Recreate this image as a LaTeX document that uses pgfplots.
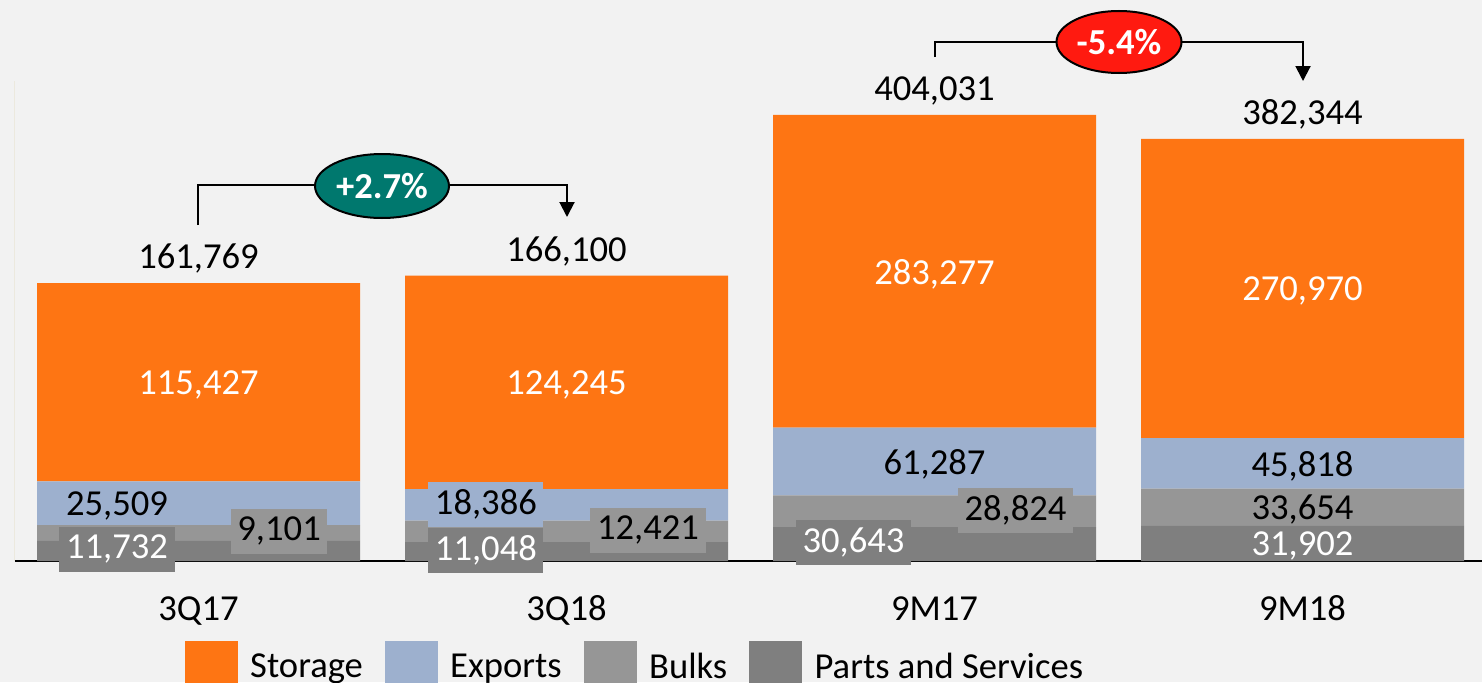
\documentclass[border=0pt]{standalone}
\usepackage{fontspec}
\setmainfont{Carlito}
\usepackage{pgfplots}
\pgfplotsset{compat=1.18}
\usetikzlibrary{arrows.meta,shapes.geometric}
\definecolor{bg}{RGB}{242,242,242}
\definecolor{storage}{RGB}{254,117,19}
\definecolor{exports}{RGB}{157,176,206}
\definecolor{bulks}{RGB}{150,150,150}
\definecolor{parts}{RGB}{127,127,127}
\definecolor{tealc}{RGB}{0,120,110}
\definecolor{redc}{RGB}{255,26,16}
\definecolor{yline}{RGB}{236,233,222}
\newcommand{\lf}{\fontsize{18.3}{22}\selectfont}
\pgfplotsset{
  base/.style={at={(7.25pt,60.5pt)}, anchor=south west, scale only axis,
    width=734pt, height=240pt, xmin=-0.5, xmax=3.4891, ymin=0,
    ybar stacked, bar width=161.5pt, clip=false, enlargelimits=false},
}
\tikzset{
  lbl/.style={font=\lf, inner sep=0pt, yshift=-1.3pt},
  tot/.style={font=\lf, inner sep=0pt, yshift=12.2pt},
  box/.style={font=\lf, inner xsep=3.3pt, inner ysep=0pt, minimum height=22.5pt},
}
\begin{document}
\begin{tikzpicture}[x=1pt,y=1pt]
\fill[bg] (0,0) rectangle (741,341);
\useasboundingbox (0,0) rectangle (741,341);
\begin{axis}[base, ymax=279313,
  axis x line*=bottom, axis y line*=left,
  x axis line style={black, line width=1pt, -},
  y axis line style={yline, line width=0.75pt, -},
  xtick={0,1,2,3}, xticklabels={3Q17,3Q18,9M17,9M18}, ytick=\empty,
  major tick length=0pt,
  xticklabel style={anchor=base, inner sep=0pt, yshift=-29.5pt, font=\lf},
  legend columns=4, legend cell align=left,
  legend style={at={(axis description cs:0.1161,-0.1667)}, anchor=north west,
    draw=none, fill=none, inner sep=0pt, outer sep=0pt,
    nodes={inner sep=0pt, font=\lf},
    /tikz/every odd column/.append style={column sep=6.25pt},
    /tikz/every even column/.append style={column sep=11pt}},
]
\addlegendimage{legend image code/.code={\fill[storage] (0pt,-13pt) rectangle (26pt,13pt);}}
\addlegendentry{Storage}
\addlegendimage{legend image code/.code={\fill[exports] (0pt,-13pt) rectangle (26pt,13pt);}}
\addlegendentry{Exports}
\addlegendimage{legend image code/.code={\fill[bulks] (0pt,-13pt) rectangle (26pt,13pt);}}
\addlegendentry{Bulks}
\addlegendimage{legend image code/.code={\fill[parts] (0pt,-13pt) rectangle (26pt,13pt);}}
\addlegendentry{Parts and Services}
\addplot[fill=parts, draw=none] coordinates {(0,11732) (1,11048)};
\addplot[fill=bulks, draw=none] coordinates {(0,9101) (1,12421)};
\addplot[fill=exports, draw=none] coordinates {(0,25509) (1,18386)};
\addplot[fill=storage, draw=none] coordinates {(0,115427) (1,124245)};
% label anchors 3Q17
\coordinate (a1) at (axis cs:0,104055);
\coordinate (a2) at (axis cs:-0.2215,33587);
\coordinate (a3) at (axis cs:0.219,17442);
\coordinate (a4) at (axis cs:-0.2215,6977);
\coordinate (a5) at (axis cs:0,161769);
% label anchors 3Q18
\coordinate (b1) at (axis cs:1,103977);
\coordinate (b2) at (axis cs:0.781,33140);
\coordinate (b3) at (axis cs:0.781,6395);
\coordinate (b4) at (axis cs:1.2215,18023);
\coordinate (b5) at (axis cs:1,166100);
\end{axis}
\begin{axis}[base, ymax=434832, hide axis]
\addplot[fill=parts, draw=none] coordinates {(2,30643) (3,31902)};
\addplot[fill=bulks, draw=none] coordinates {(2,28824) (3,33654)};
\addplot[fill=exports, draw=none] coordinates {(2,61287) (3,45818)};
\addplot[fill=storage, draw=none] coordinates {(2,283277) (3,270970)};
% label anchors 9M17
\coordinate (c1) at (axis cs:2,262392);
\coordinate (c2) at (axis cs:2,90110);
\coordinate (c3) at (axis cs:2.22,46201);
\coordinate (c4) at (axis cs:1.78,17212);
\coordinate (c5) at (axis cs:2,404031);
% label anchors 9M18
\coordinate (d1) at (axis cs:3,246859);
\coordinate (d2) at (axis cs:3,88465);
\coordinate (d3) at (axis cs:3,48729);
\coordinate (d4) at (axis cs:3,15951);
\coordinate (d5) at (axis cs:3,382344);
\end{axis}
% data labels
\node[lbl, text=white] at (a1) {115,427};
\node[lbl] at (a2) {25,509};
\node[box, fill=bulks] at (a3) {9,101};
\node[box, fill=parts, text=white] at (a4) {11,732};
\node[tot] at (a5) {161,769};
\node[lbl, text=white] at (b1) {124,245};
\node[box, fill=exports] at (b2) {18,386};
\node[box, fill=parts, text=white] at (b3) {11,048};
\node[box, fill=bulks] at (b4) {12,421};
\node[tot] at (b5) {166,100};
\node[lbl, text=white] at (c1) {283,277};
\node[lbl] at (c2) {61,287};
\node[box, fill=bulks] at (c3) {28,824};
\node[box, fill=parts, text=white] at (c4) {30,643};
\node[tot] at (c5) {404,031};
\node[lbl, text=white] at (d1) {270,970};
\node[lbl] at (d2) {45,818};
\node[lbl] at (d3) {33,654};
\node[lbl, text=white] at (d4) {31,902};
\node[tot] at (d5) {382,344};
% change annotations
\draw[line width=1pt, -{Triangle[width=7.5pt,length=7.5pt]}] (99,228.5) |- (283.5,248.5) -- (283.5,232.5);
\node[ellipse, draw=black, line width=1pt, fill=tealc, minimum width=67pt, minimum height=32pt, inner sep=0pt, text=white, font=\bfseries\lf] at (191,248) {+2.7\%};
\draw[line width=1pt, -{Triangle[width=7.5pt,length=7.5pt]}] (467.5,312.5) |- (651.5,320) -- (651.5,300.5);
\node[ellipse, draw=black, line width=1pt, fill=redc, minimum width=62.5pt, minimum height=31pt, inner sep=0pt, text=white, font=\bfseries\lf] at (559.5,320) {-5.4\%};
\end{tikzpicture}
\end{document}
